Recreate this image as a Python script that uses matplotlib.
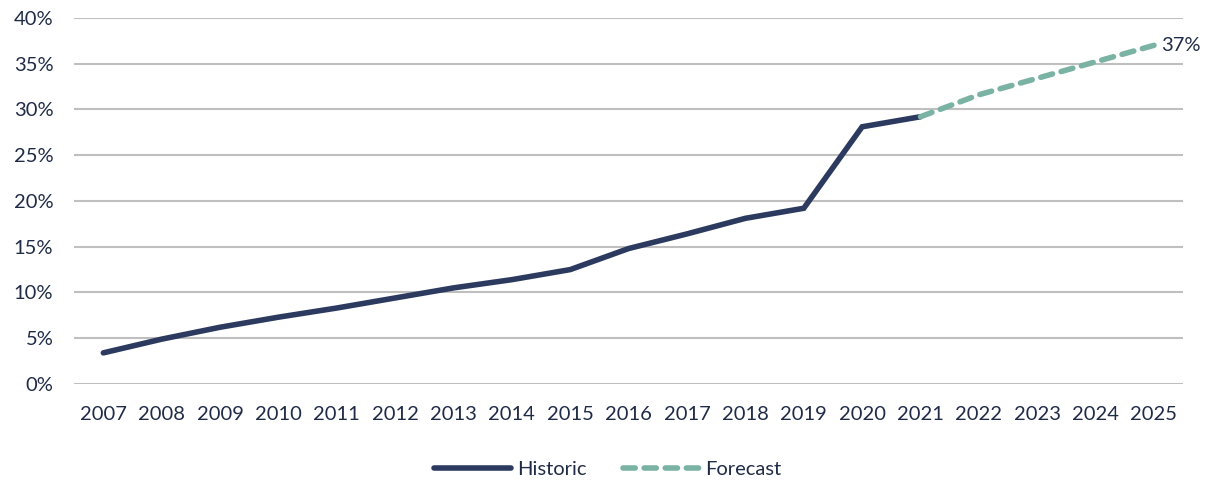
import numpy as np
import matplotlib.pyplot as plt
from matplotlib.ticker import PercentFormatter

plt.rcParams['font.family'] = ['Lato', 'DejaVu Sans']

years = [str(y) for y in range(2007, 2026)]
historic = [3.4, 4.9, 6.2, 7.3, 8.3, 9.4, 10.5, 11.4, 12.5, 14.8, 16.4, 18.1, 19.2, 28.1, 29.2]
forecast = [29.2, 31.6, 33.4, 35.2, 37.0]

navy = '#2B3A5E'
teal = '#7AB3A4'
text_col = '#1F2B47'
fs = 14.5

fig = plt.figure(figsize=(12.16, 4.83), dpi=100)
ax = fig.add_axes([0.061, 0.205, 0.912, 0.758])

x = np.arange(len(years))
x_hist = x[:len(historic)]
x_fc = x[len(historic) - 1:]

ax.plot(x_hist, historic, color=navy, lw=4, solid_capstyle='round',
        solid_joinstyle='miter', label='Historic', zorder=3)
ax.plot(x_fc, forecast, color=teal, lw=4, ls=(0, (2.2, 1.6)),
        dash_capstyle='round', label='Forecast', zorder=3)

# value label at the end of the forecast
ax.annotate(f'{forecast[-1]:.0f}%', (x_fc[-1], forecast[-1]),
            xytext=(5, 0), textcoords='offset points', va='center',
            ha='left', fontsize=fs, color=text_col)

ax.set_xlim(-0.5, len(years) - 0.5)
ax.set_ylim(0, 40)
ax.set_yticks(np.arange(0, 41, 5))
ax.yaxis.set_major_formatter(PercentFormatter(decimals=0))
ax.set_xticks(x)
ax.set_xticklabels(years)

ax.grid(axis='y', color='#BFBFBF', lw=1.5, zorder=0)
ax.axhline(0, color='#BDD7EE', lw=1.8, zorder=1)
for s in ax.spines.values():
    s.set_visible(False)
ax.tick_params(length=0, labelsize=fs, colors=text_col)
ax.tick_params(axis='x', pad=16)
ax.tick_params(axis='y', pad=15)

leg = fig.legend(loc='lower center', bbox_to_anchor=(0.5, -0.028), ncol=2,
                 frameon=False, fontsize=fs, handlelength=3.8,
                 columnspacing=1.8, handletextpad=0.3)
for t in leg.get_texts():
    t.set_color(text_col)

fig.savefig('out.png', dpi=100)
